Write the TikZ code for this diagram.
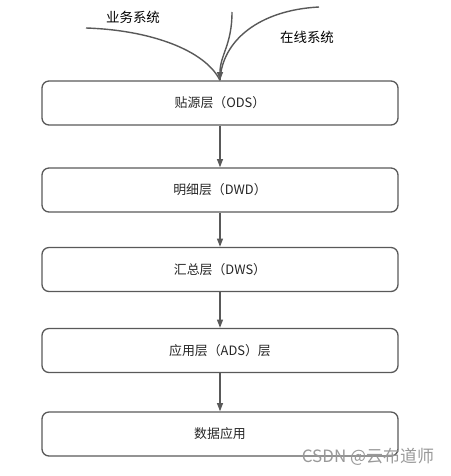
\documentclass[tikz,border=0pt]{standalone}
\usepackage{fontspec}
\setmainfont{Noto Sans CJK SC}
\usetikzlibrary{arrows.meta,positioning}
\definecolor{linegray}{HTML}{595959}

\begin{document}
\begin{tikzpicture}[x=0.03cm,y=-0.03cm,
    layer/.style={draw=linegray,line width=1.1pt,rounded corners=6pt,
        minimum width=10.68cm,minimum height=1.32cm,
        font=\fontsize{11pt}{13pt}\selectfont,text=black!85},
    flow/.style={draw=linegray,line width=1.2pt,-{Triangle[length=7pt,width=5pt]}},
    feed/.style={draw=linegray,line width=1.2pt}]
\useasboundingbox (0,0) rectangle (451,476);

\node[layer] (ods) at (220,103) {贴源层（ODS）};
\node[layer] (dwd) at (220,190) {明细层（DWD）};
\node[layer] (dws) at (220,269.5) {汇总层（DWS）};
\node[layer] (ads) at (220,350.5) {应用层（ADS）层};
\node[layer] (app) at (220,434) {数据应用};

% sources
\coordinate (biz) at (86,28);
\coordinate (mid) at (232,12);
\coordinate (online) at (319,7);
\node[font=\fontsize{11.5pt}{13pt}\selectfont] (bizlabel) at (133,17) {业务系统};
\node[font=\fontsize{11.5pt}{13pt}\selectfont] (onlinelabel) at (307,37) {在线系统};

\draw[feed] (biz) .. controls (150,30) and (205,50) .. (ods.north);
\draw[feed] (online) .. controls (260,10) and (222,40) .. (ods.north);
\draw[flow] (mid) .. controls (232,45) and (220,55) .. (ods.north);

\draw[flow] (ods) -- (dwd);
\draw[flow] (dwd) -- (dws);
\draw[flow] (dws) -- (ads);
\draw[flow] (ads) -- (app);

\node[font=\fontsize{14.5pt}{16pt}\selectfont,text=black!40] (mark) at (368,457) {CSDN @云布道师};
\end{tikzpicture}
\end{document}
